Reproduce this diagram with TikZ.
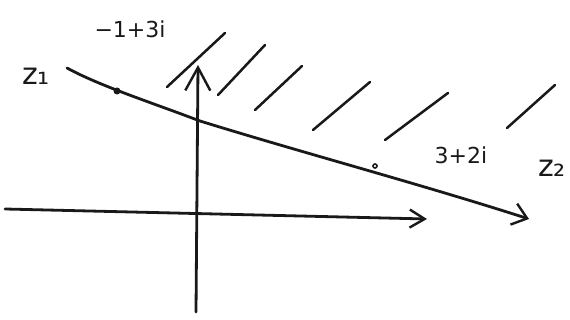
\documentclass[tikz,border=0pt]{standalone}
\usepackage{fontspec}
\setmainfont{DejaVu Sans}
\usetikzlibrary{arrows.meta}
\begin{document}
\begin{tikzpicture}[x=1pt,y=-1pt,
  pen/.style={line width=2.8pt,line cap=round,line join=round,black!90},
  hatch/.style={line width=2.5pt,line cap=round,black!90},
  lbl/.style={font=\fontsize{22}{25}\selectfont,inner sep=0pt,text=black!90},
  zlbl/.style={font=\fontsize{30}{34}\selectfont,inner sep=0pt,text=black!90}]
\useasboundingbox (0,0) rectangle (570,320);
\fill[white] (0,0) rectangle (570,320);
% axes
\coordinate (xs) at (5,209);
\coordinate (xe) at (427,219);
\coordinate (ys) at (196,312);
\coordinate (ye) at (198,65);
\draw[pen,-{Straight Barb[length=15pt,width=18pt,line width=2.4pt]}] (xs) -- (xe);
\draw[pen,-{Straight Barb[length=23pt,width=25pt,line width=2.4pt]}] (ys) -- (ye);
% line z1 -> z2
\coordinate (z1) at (67,68);
\coordinate (m) at (200,121);
\coordinate (z2) at (529,219);
\draw[pen,-{Straight Barb[length=14pt,width=22pt,line width=2.4pt]}]
  (z1) .. controls (100,86) and (150,102) .. (m)
       .. controls (300,152) and (420,184) .. (z2);
% points
\node[circle,fill=black!90,inner sep=0pt,minimum size=7pt] (p1) at (117,91) {};
\node[circle,draw=black!90,line width=1.6pt,inner sep=0pt,minimum size=4pt] (p2) at (375,166) {};
% hatching
\draw[hatch] (167,87) -- (225,33);
\draw[hatch] (218,95) -- (265,45);
\draw[hatch] (255,110) -- (302,66);
\draw[hatch] (313,130) -- (370,82);
\draw[hatch] (385,140) -- (448,93);
\draw[hatch] (507,128) -- (555,85);
% labels
\node[lbl] (l1) at (130,29) {−1+3i};
\node[lbl] (l2) at (461,155) {3+2i};
\node[zlbl] (lz1) at (36,76) {z₁};
\node[zlbl] (lz2) at (552,168) {z₂};
\end{tikzpicture}
\end{document}
